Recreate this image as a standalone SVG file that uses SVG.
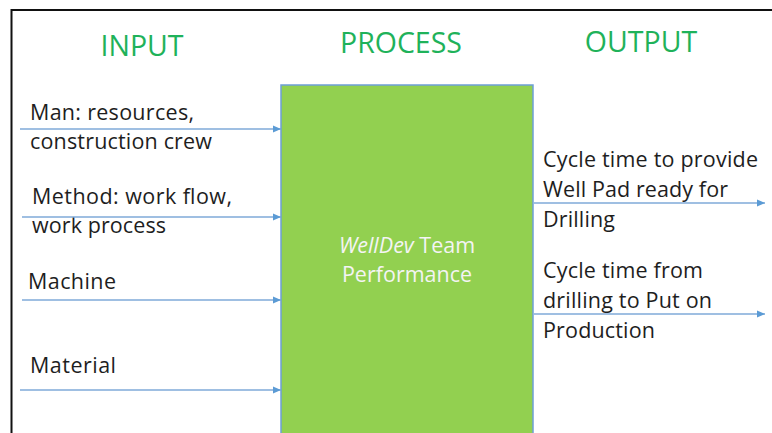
<svg xmlns="http://www.w3.org/2000/svg" width="772" height="433" viewBox="0 0 772 433">
<style>
.title{font-family:"Open Sans","Liberation Sans",sans-serif;font-size:28.5px;fill:#1fb25a;text-anchor:middle}
.lbl{font-family:"Open Sans","Liberation Sans",sans-serif;font-size:21.5px;fill:#1e1e1e}
.inner{font-family:"Open Sans","Liberation Sans",sans-serif;font-size:21.5px;fill:#f4f4f4;text-anchor:middle}
.arrow{stroke:#7faad9;stroke-width:1.3;fill:none;marker-end:url(#ah)}
.frame{stroke:#111;stroke-width:2;fill:none}
</style>
<defs>
<marker id="ah" markerUnits="userSpaceOnUse" markerWidth="9" markerHeight="8" refX="8" refY="4" orient="auto">
<path d="M0,0.5 L8,4 L0,7.5 z" fill="#5b9bd5"/>
</marker>
</defs>
<rect width="772" height="433" fill="#fff"/>
<path class="frame" d="M11.5,433 V10 H772"/>
<g id="titles">
<text class="title" x="142" y="56">INPUT</text>
<text class="title" x="401" y="53">PROCESS</text>
<text class="title" x="641" y="52">OUTPUT</text>
</g>
<g id="process">
<rect x="281" y="85" width="252" height="360" fill="#92d050" stroke="#6e9fd6" stroke-width="1.5"/>
<text class="inner" x="407" y="253"><tspan font-style="italic">WellDev</tspan> Team</text>
<text class="inner" x="407" y="282">Performance</text>
</g>
<g id="input-man">
<text class="lbl" x="30" y="120" textLength="164" lengthAdjust="spacing">Man: resources,</text>
<text class="lbl" x="30" y="149" textLength="182" lengthAdjust="spacing">construction crew</text>
</g>
<g id="input-method">
<text class="lbl" x="32" y="204" textLength="200" lengthAdjust="spacing">Method: work flow,</text>
<text class="lbl" x="32" y="233" textLength="134" lengthAdjust="spacing">work process</text>
</g>
<g id="input-machine">
<text class="lbl" x="28" y="289" textLength="88" lengthAdjust="spacing">Machine</text>
</g>
<g id="input-material">
<text class="lbl" x="30" y="373" textLength="86" lengthAdjust="spacing">Material</text>
</g>
<g id="output-wellpad">
<text class="lbl" x="543" y="167" textLength="215" lengthAdjust="spacing">Cycle time to provide</text>
<text class="lbl" x="543" y="197" textLength="185" lengthAdjust="spacing">Well Pad ready for</text>
<text class="lbl" x="543" y="227" textLength="72" lengthAdjust="spacing">Drilling</text>
</g>
<g id="output-production">
<text class="lbl" x="543" y="278" textLength="160" lengthAdjust="spacing">Cycle time from</text>
<text class="lbl" x="543" y="308" textLength="169" lengthAdjust="spacing">drilling to Put on</text>
<text class="lbl" x="543" y="338" textLength="112" lengthAdjust="spacing">Production</text>
</g>
<g id="connectors">
<line class="arrow" x1="20" y1="129" x2="281" y2="129"/>
<line class="arrow" x1="22" y1="217" x2="281" y2="217"/>
<line class="arrow" x1="22" y1="300" x2="281" y2="300"/>
<line class="arrow" x1="20" y1="390" x2="281" y2="390"/>
<line class="arrow" x1="534" y1="203" x2="765" y2="203"/>
<line class="arrow" x1="534" y1="314" x2="765" y2="314"/>
</g>
</svg>
